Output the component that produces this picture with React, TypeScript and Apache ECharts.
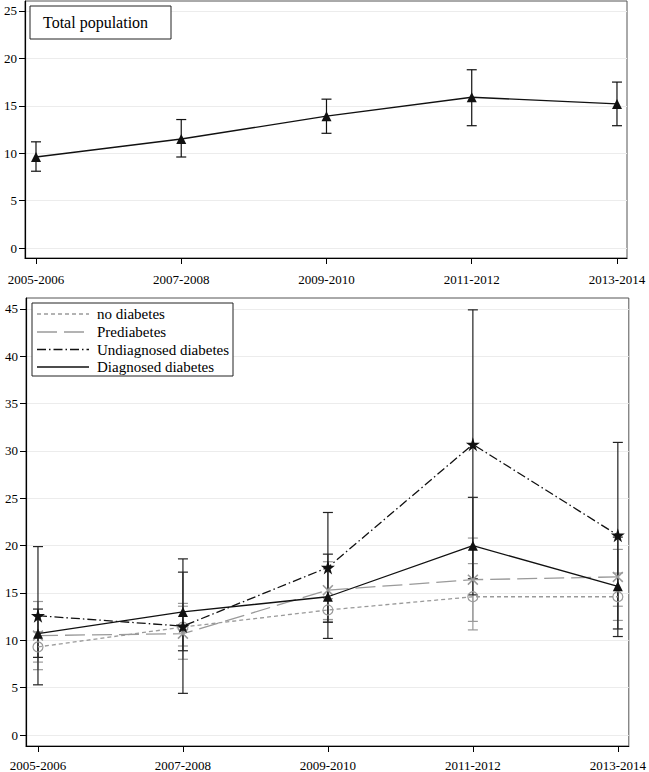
import React, { useEffect, useRef } from "react";
import * as echarts from "echarts";

const categories = ["2005-2006", "2007-2008", "2009-2010", "2011-2012", "2013-2014"];

const totalVal = [9.6, 11.5, 13.9, 15.9, 15.2];
const totalLow = [8.1, 9.6, 12.1, 12.9, 12.9];
const totalHigh = [11.2, 13.55, 15.7, 18.8, 17.5];

const noDiabVal = [9.3, 11.4, 13.2, 14.6, 14.6];
const noDiabLow = [7.7, 9.4, 12.0, 11.1, 12.1];
const noDiabHigh = [10.9, 13.6, 14.4, 18.1, 17.1];

const preDiabVal = [10.5, 10.7, 15.3, 16.4, 16.7];
const preDiabLow = [6.9, 8.0, 12.2, 12.0, 13.6];
const preDiabHigh = [14.1, 13.9, 18.3, 20.8, 19.6];

const undiagVal = [12.6, 11.5, 17.7, 30.7, 21.1];
const undiagLow = [5.3, 4.4, 11.9, 16.5, 11.2];
const undiagHigh = [19.9, 18.6, 23.5, 44.9, 30.9];

const diagVal = [10.7, 13.0, 14.6, 20.0, 15.7];
const diagLow = [8.2, 8.9, 10.2, 14.8, 10.4];
const diagHigh = [13.3, 17.2, 19.1, 25.1, 20.9];

const topTicks = [0, 5, 10, 15, 20, 25];
const bottomTicks = [0, 5, 10, 15, 20, 25, 30, 35, 40, 45];
const xTicks = [0, 1, 2, 3, 4];

const FONT = "Liberation Serif";
const GRAY = "#9a9a9a";
const BLACK = "#111";

const STAR = "path://M50,0 L61,35 L98,35 L68,57 L79,91 L50,70 L21,91 L32,57 L2,35 L39,35 Z";
const XMARK = "path://M0,1 L1,0 L5,4 L9,0 L10,1 L6,5 L10,9 L9,10 L5,6 L1,10 L0,9 L4,5 Z";

function pts(vals: number[]) {
  return vals.map((v, i) => [i, v]);
}
function bars(lo: number[], hi: number[]) {
  return lo.map((l, i) => [i, l, hi[i]]);
}

function errorSeries(name: string, lo: number[], hi: number[], color: string, axisIdx: number) {
  return {
    name: name + " CI",
    type: "custom",
    xAxisIndex: axisIdx,
    yAxisIndex: axisIdx,
    z: 2,
    silent: true,
    encode: { x: 0, y: [1, 2] },
    data: bars(lo, hi),
    renderItem: (params: any, api: any) => {
      const x = api.value(0);
      const a = api.coord([x, api.value(1)]);
      const b = api.coord([x, api.value(2)]);
      const w = 5;
      const st = { stroke: color, lineWidth: 1.2 };
      return {
        type: "group",
        children: [
          { type: "line", shape: { x1: a[0], y1: a[1], x2: b[0], y2: b[1] }, style: st },
          { type: "line", shape: { x1: a[0] - w, y1: a[1], x2: a[0] + w, y2: a[1] }, style: st },
          { type: "line", shape: { x1: b[0] - w, y1: b[1], x2: b[0] + w, y2: b[1] }, style: st },
        ],
      };
    },
  };
}

function xAxis(gridIndex: number, min: number, max: number, margin: number) {
  return {
    type: "value",
    gridIndex,
    min,
    max,
    axisLine: { show: true, onZero: false, lineStyle: { color: "#000", width: 1.2 } },
    axisTick: { show: true, length: 6, customValues: xTicks, lineStyle: { color: "#000" } },
    axisLabel: {
      customValues: xTicks,
      margin,
      color: "#000",
      fontFamily: FONT,
      fontSize: 13,
      formatter: (v: number) => categories[Math.round(v)] ?? "",
    },
    splitLine: { show: false },
  };
}

function yAxis(gridIndex: number, min: number, max: number, ticks: number[]) {
  return {
    type: "value",
    gridIndex,
    min,
    max,
    axisLine: { show: true, onZero: false, lineStyle: { color: "#000", width: 1.2 } },
    axisTick: { show: true, length: 6, customValues: ticks, lineStyle: { color: "#000" } },
    axisLabel: { customValues: ticks, margin: 8, color: "#000", fontFamily: FONT, fontSize: 13 },
    splitLine: { show: true, lineStyle: { color: "#ececec", width: 1 } },
  };
}

export default function App() {
  const ref = useRef<HTMLDivElement>(null);
  useEffect(() => {
    if (!ref.current) return;
    const chart = echarts.init(ref.current, null, { renderer: "svg" });
    const legendRows = [
      { label: "no diabetes", color: GRAY, dash: [4, 3] },
      { label: "Prediabetes", color: GRAY, dash: [20, 7] },
      { label: "Undiagnosed diabetes", color: BLACK, dash: [9, 3, 1.5, 3] },
      { label: "Diagnosed diabetes", color: BLACK, dash: null },
    ];
    const rowY = [314, 332, 349.5, 367];
    const legendGraphics: any[] = [
      { type: "rect", shape: { x: 32, y: 303, width: 201, height: 73 }, style: { fill: "#fff", stroke: "#222", lineWidth: 1 }, z: 10 },
    ];
    legendRows.forEach((r, i) => {
      legendGraphics.push({
        type: "line",
        z: 11,
        shape: { x1: 37, y1: rowY[i], x2: 89, y2: rowY[i] },
        style: { stroke: r.color, lineWidth: 1.3, lineDash: r.dash || undefined },
      });
      legendGraphics.push({
        type: "text",
        z: 11,
        x: 97,
        y: rowY[i],
        style: { text: r.label, fill: "#000", fontFamily: FONT, fontSize: 15, verticalAlign: "middle" },
      });
    });

    chart.setOption({
      animation: false,
      backgroundColor: "#fff",
      textStyle: { fontFamily: FONT },
      grid: [
        { left: 25, right: 22, top: 1, bottom: 514, show: true, borderColor: "#555", borderWidth: 1, backgroundColor: "transparent" },
        { left: 26, right: 19, top: 298, bottom: 26, show: true, borderColor: "#555", borderWidth: 1, backgroundColor: "transparent" },
      ],
      xAxis: [xAxis(0, -0.0757, 4.069, 15), xAxis(1, -0.0826, 4.0757, 13)],
      yAxis: [yAxis(0, -1.05, 26.05, topTicks), yAxis(1, -1.16, 46.15, bottomTicks)],
      graphic: [
        { type: "rect", z: 10, shape: { x: 30, y: 6, width: 141, height: 33 }, style: { fill: "#fff", stroke: "#222", lineWidth: 1 } },
        { type: "text", z: 11, x: 43, y: 22.5, style: { text: "Total population", fill: "#000", fontFamily: FONT, fontSize: 16, verticalAlign: "middle" } },
        ...legendGraphics,
      ],
      series: [
        errorSeries("Total population", totalLow, totalHigh, BLACK, 0),
        {
          name: "Total population",
          type: "line",
          xAxisIndex: 0,
          yAxisIndex: 0,
          z: 3,
          data: pts(totalVal),
          symbol: "triangle",
          symbolSize: 10,
          itemStyle: { color: BLACK },
          lineStyle: { color: BLACK, width: 1.3 },
        },
        errorSeries("no diabetes", noDiabLow, noDiabHigh, GRAY, 1),
        errorSeries("Prediabetes", preDiabLow, preDiabHigh, GRAY, 1),
        errorSeries("Undiagnosed diabetes", undiagLow, undiagHigh, "#222", 1),
        errorSeries("Diagnosed diabetes", diagLow, diagHigh, "#222", 1),
        {
          name: "no diabetes",
          type: "line",
          xAxisIndex: 1,
          yAxisIndex: 1,
          z: 3,
          data: pts(noDiabVal),
          symbol: "circle",
          symbolSize: 10,
          itemStyle: { color: "rgba(255,255,255,0)", borderColor: GRAY, borderWidth: 1.2 },
          lineStyle: { color: GRAY, width: 1.3, type: [4, 3] },
        },
        {
          name: "Prediabetes",
          type: "line",
          xAxisIndex: 1,
          yAxisIndex: 1,
          z: 3,
          data: pts(preDiabVal),
          symbol: XMARK,
          symbolSize: 11,
          itemStyle: { color: GRAY },
          lineStyle: { color: GRAY, width: 1.3, type: [20, 7] },
        },
        {
          name: "Undiagnosed diabetes",
          type: "line",
          xAxisIndex: 1,
          yAxisIndex: 1,
          z: 4,
          data: pts(undiagVal),
          symbol: STAR,
          symbolSize: 14,
          itemStyle: { color: BLACK },
          lineStyle: { color: BLACK, width: 1.3, type: [9, 3, 1.5, 3] },
        },
        {
          name: "Diagnosed diabetes",
          type: "line",
          xAxisIndex: 1,
          yAxisIndex: 1,
          z: 4,
          data: pts(diagVal),
          symbol: "triangle",
          symbolSize: 10,
          itemStyle: { color: BLACK },
          lineStyle: { color: BLACK, width: 1.3 },
        },
      ],
    });
    return () => chart.dispose();
  }, []);
  return (
    <div
      ref={ref}
      style={{ position: "fixed", left: 0, top: 0, width: 649, height: 772, background: "#fff" }}
    />
  );
}
